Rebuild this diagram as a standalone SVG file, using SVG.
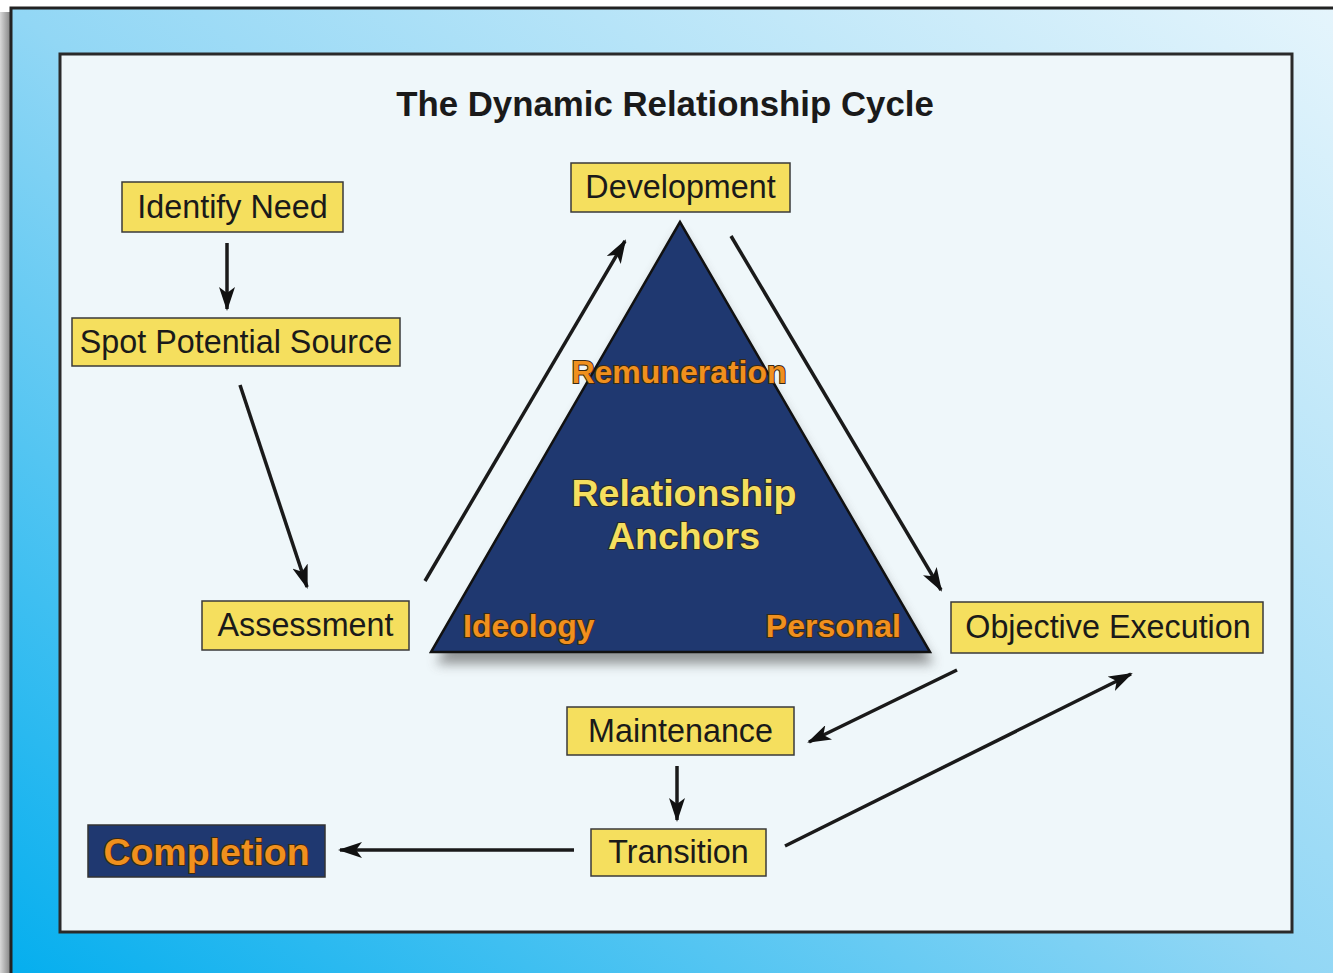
<svg xmlns="http://www.w3.org/2000/svg" width="1333" height="973" viewBox="0 0 1333 973">
  <defs>
    <linearGradient id="bg" x1="0" y1="1" x2="1" y2="0">
      <stop offset="0" stop-color="#00adee"/>
      <stop offset="0.5" stop-color="#92d7f5"/>
      <stop offset="1" stop-color="#e6f5fc"/>
    </linearGradient>
    <linearGradient id="lshadow" x1="0" y1="0" x2="1" y2="0">
      <stop offset="0" stop-color="#d8d8d8"/>
      <stop offset="1" stop-color="#777"/>
    </linearGradient>
    <filter id="blur" x="-20%" y="-20%" width="140%" height="140%">
      <feGaussianBlur stdDeviation="6"/>
    </filter>
    <marker id="ah" viewBox="0 0 24 16" refX="22" refY="8" markerWidth="24" markerHeight="16" markerUnits="userSpaceOnUse" orient="auto">
      <path d="M0,0 L24,8 L0,16 L6,8 z" fill="#111"/>
    </marker>
    <style>
      .box { fill: #f5df5e; stroke: #3a3a3a; stroke-width: 1.5; }
      .lbl { font-family: "Liberation Sans", Arial, sans-serif; font-size: 32.3px; fill: #1a1a1a; text-anchor: middle; }
      .conn { stroke: #1a1a1a; stroke-width: 3.5; fill: none; marker-end: url(#ah); }
      .orange { font-family: "Liberation Sans", Arial, sans-serif; font-weight: bold; fill: #f0901e; stroke: #3a2a14; stroke-width: 2; paint-order: stroke; }
      .yellow { font-family: "Liberation Sans", Arial, sans-serif; font-weight: bold; fill: #f5df5e; stroke: #2a2a2a; stroke-width: 2; paint-order: stroke; text-anchor: middle; }
    </style>
  </defs>

  <rect x="0" y="0" width="1333" height="973" fill="#ffffff"/>
  <rect x="0" y="12" width="12" height="961" fill="url(#lshadow)"/>
  <rect x="11" y="8" width="1340" height="1000" fill="url(#bg)" stroke="#222" stroke-width="3"/>

  <rect x="60" y="54" width="1232" height="878" fill="#eff7fa" stroke="#2a2a2a" stroke-width="3"/>

  <text x="665" y="116" font-family="Liberation Sans, Arial, sans-serif" font-weight="bold" font-size="34.8" fill="#1a1a1a" text-anchor="middle">The Dynamic Relationship Cycle</text>

  <g id="anchors">
    <polygon points="680,232 436,664 934,664" fill="#555" opacity="0.6" filter="url(#blur)"/>
    <polygon points="680,222 431,652 930,652" fill="#1f3870" stroke="#111" stroke-width="2.5"/>
    <text x="679" y="383" class="orange" font-size="32" text-anchor="middle">Remuneration</text>
    <text x="684" y="506" class="yellow" font-size="37.5">Relationship</text>
    <text x="684" y="549" class="yellow" font-size="37.5">Anchors</text>
    <text x="463" y="637" class="orange" font-size="32">Ideology</text>
    <text x="901" y="637" class="orange" font-size="32" text-anchor="end">Personal</text>
  </g>

  <g id="connectors">
    <line class="conn" x1="227" y1="243" x2="227" y2="309"/>
    <line class="conn" x1="240" y1="385" x2="307" y2="587"/>
    <line class="conn" x1="425" y1="581" x2="625" y2="241"/>
    <line class="conn" x1="731" y1="236" x2="941" y2="590"/>
    <line class="conn" x1="957" y1="670" x2="809" y2="742"/>
    <line class="conn" x1="677" y1="766" x2="677" y2="820"/>
    <line class="conn" x1="574" y1="850" x2="340" y2="850"/>
    <line class="conn" x1="785" y1="846" x2="1131" y2="674"/>
  </g>

  <g id="identify-need">
    <rect class="box" x="122" y="182" width="221" height="50"/>
    <text class="lbl" x="232.5" y="218">Identify Need</text>
  </g>
  <g id="development">
    <rect class="box" x="571" y="163" width="219" height="49"/>
    <text class="lbl" x="680.5" y="198">Development</text>
  </g>
  <g id="spot-potential-source">
    <rect class="box" x="72" y="318" width="328" height="48"/>
    <text class="lbl" x="236" y="353">Spot Potential Source</text>
  </g>
  <g id="assessment">
    <rect class="box" x="202" y="601" width="207" height="49"/>
    <text class="lbl" x="305.5" y="636">Assessment</text>
  </g>
  <g id="objective-execution">
    <rect class="box" x="951" y="602" width="312" height="51"/>
    <text class="lbl" x="1108" y="638">Objective Execution</text>
  </g>
  <g id="maintenance">
    <rect class="box" x="567" y="707" width="227" height="48"/>
    <text class="lbl" x="680.5" y="742">Maintenance</text>
  </g>
  <g id="transition">
    <rect class="box" x="591" y="829" width="175" height="47"/>
    <text class="lbl" x="678.5" y="863">Transition</text>
  </g>
  <g id="completion">
    <rect x="88" y="825" width="237" height="52" fill="#1f3870" stroke="#333" stroke-width="1.5"/>
    <text x="206.5" y="865" class="orange" font-size="37.5" text-anchor="middle">Completion</text>
  </g>
</svg>
